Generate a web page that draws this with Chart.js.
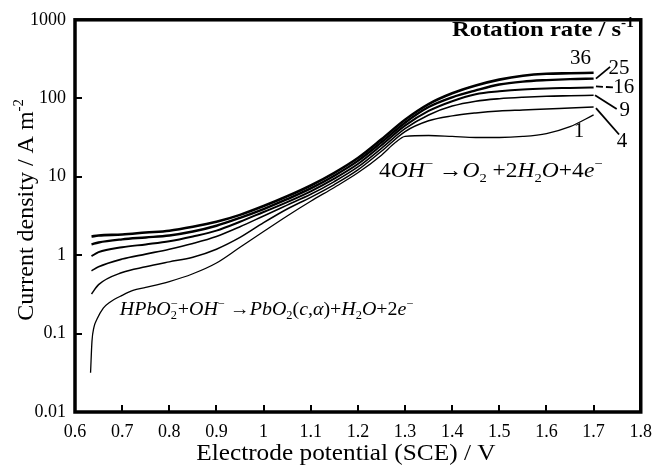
<!DOCTYPE html>
<html>
<head>
<meta charset="utf-8">
<script src="https://cdn.jsdelivr.net/npm/chart.js@4.4.0/dist/chart.umd.min.js"></script>
<style>
  html, body { margin: 0; padding: 0; background: #fff; }
  #wrap { width: 661px; height: 470px; }
</style>
</head>
<body>
<div id="wrap"><canvas id="chart" width="661" height="470"></canvas></div>
<script>
// Electrode potential (V vs SCE) sampled for the 4–36 s^-1 curves
const potential = [0.635, 0.65, 0.70, 0.75, 0.80, 0.85, 0.90, 0.95, 1.00, 1.05, 1.10, 1.15,
                   1.20, 1.25, 1.30, 1.35, 1.40, 1.45, 1.50, 1.55, 1.60, 1.65, 1.70];
// Current density (A m^-2) at each rotation rate
const current36 = [1.73, 1.78, 1.83, 1.94, 2.05, 2.30, 2.66, 3.26, 4.22, 5.62, 7.72, 11.2,
                   17.3, 29.9, 53.1, 84.1, 115.5, 145.4, 172.8, 193.9, 205.4, 208.4, 211.3];
const current25 = [1.37, 1.45, 1.59, 1.68, 1.78, 2.00, 2.37, 2.99, 3.87, 5.16, 7.08, 10.3,
                   15.9, 27.4, 48.7, 77.2, 102.9, 125.9, 149.6, 163.1, 170.3, 175.3, 177.8];
const current16 = [0.97, 1.09, 1.26, 1.37, 1.50, 1.73, 2.05, 2.66, 3.55, 4.73, 6.49, 9.44,
                   14.5, 25.1, 44.7, 68.8, 91.7, 112.2, 122.4, 129.6, 133.4, 135.3, 137.3];
const current9  = [0.63, 0.71, 0.89, 1.03, 1.19, 1.41, 1.73, 2.30, 3.16, 4.34, 5.96, 8.66,
                   13.3, 23.0, 41.0, 61.3, 79.4, 91.7, 98.6, 102.9, 105.9, 107.5, 109.0];
const current4  = [0.32, 0.42, 0.60, 0.71, 0.82, 0.94, 1.19, 1.68, 2.59, 3.87, 5.46, 7.94,
                   12.2, 21.1, 37.6, 51.6, 59.6, 64.9, 68.8, 70.8, 72.9, 75.0, 77.2];
// The 1 s^-1 curve is sampled more densely near its steep start
const potential1 = [0.633, 0.636, 0.640, 0.647, 0.660, 0.674, 0.70, 0.723, 0.75, 0.80, 0.85, 0.90,
                    0.95, 1.00, 1.05, 1.10, 1.15, 1.20, 1.25, 1.28, 1.30, 1.35, 1.40, 1.45,
                    1.50, 1.55, 1.60, 1.65, 1.70];
const current1 = [0.0316, 0.0794, 0.119, 0.154, 0.211, 0.251, 0.307, 0.355, 0.387, 0.460, 0.579, 0.794,
                  1.26, 2.00, 3.16, 4.87, 7.29, 11.2, 18.8, 27.4, 32.6, 33.5, 32.6, 31.6,
                  31.6, 32.6, 35.5, 43.4, 61.3];

const rotationRates = ['36', '25', '16', '9', '4', '1'];
const xTickStep = 0.1;
const yTickValues = [0.01, 0.1, 1, 10, 100, 1000];

// Curve labels and their leader lines, placed in data coordinates
const rateLabelAnchors = [
  { text: '36', at: [1.672, 273.8] },
  { text: '25', at: [1.754, 205.4] },
  { text: '16', at: [1.764, 115.5] },
  { text: '9',  at: [1.766, 59.6] },
  { text: '4',  at: [1.760, 23.7] },
  { text: '1',  at: [1.669, 31.6] }
];
const leaderLines = [
  { from: [1.705, 177.8], to: [1.735, 251.2] },
  { from: [1.705, 141.3], to: [1.743, 137.3], dash: [7, 3] },
  { from: [1.703, 109.0], to: [1.749, 72.9] },
  { from: [1.705, 75.0],  to: [1.754, 34.5] }
];

const SERIF = '"Liberation Serif", "Times New Roman", Times, serif';

function pairUp(xs, ys) { return xs.map((v, i) => ({ x: v, y: ys[i] })); }

const seriesValues = [current36, current25, current16, current9, current4];
const lineWidths = [2.6, 2.4, 2.0, 1.6, 1.5, 1.3];

const datasets = rotationRates.map((rate, i) => ({
  label: rate + ' s-1',
  data: i < 5 ? pairUp(potential, seriesValues[i]) : pairUp(potential1, current1),
  borderColor: '#000',
  borderWidth: lineWidths[i],
  pointRadius: 0,
  fill: false,
  cubicInterpolationMode: 'monotone'
}));

// ---- rich text helper (italics, subscripts, superscripts) ----
function fontFor(p, size, bold) {
  const s = (p.sub || p.sup || p.stack) ? size * 0.62 : size;
  return (p.i ? 'italic ' : '') + (bold ? 'bold ' : '') + s.toFixed(1) + 'px ' + SERIF;
}
function partWidth(ctx, p, size, bold) {
  ctx.font = fontFor(p, size, bold);
  if (p.stack) return Math.max(ctx.measureText(p.stack[0]).width, ctx.measureText(p.stack[1]).width);
  return ctx.measureText(p.t).width;
}
function drawRich(ctx, parts, x, y, size, opts) {
  const o = Object.assign({ align: 'left', bold: false, stretch: 1 }, opts || {});
  const widths = parts.map(p => partWidth(ctx, p, size, o.bold));
  const total = widths.reduce((a, b) => a + b, 0) * o.stretch;
  let start = x;
  if (o.align === 'right') start = x - total;
  else if (o.align === 'center') start = x - total / 2;
  ctx.save();
  ctx.translate(start, y);
  ctx.scale(o.stretch, 1);
  ctx.textAlign = 'left';
  ctx.textBaseline = 'alphabetic';
  let cx = 0;
  parts.forEach((p, i) => {
    ctx.font = fontFor(p, size, o.bold);
    if (p.stack) {
      ctx.fillText(p.stack[0], cx, size * 0.24);
      ctx.fillText(p.stack[1], cx, -size * 0.40);
    } else {
      const dy = p.sub ? size * 0.24 : (p.sup ? -size * 0.40 : 0);
      ctx.fillText(p.t, cx, dy);
    }
    cx += widths[i];
  });
  ctx.restore();
}

const oxygenEquation = [
  { t: '4' }, { t: 'OH', i: true }, { t: '\u2212', sup: true }, { t: ' \u2192' },
  { t: 'O', i: true }, { t: '2', sub: true }, { t: ' +2' }, { t: 'H', i: true }, { t: '2', sub: true },
  { t: 'O', i: true }, { t: '+4' }, { t: 'e', i: true }, { t: '\u2212', sup: true }
];
const depositEquation = [
  { t: 'HPbO', i: true }, { stack: ['2', '\u2212'] }, { t: '+' }, { t: 'OH', i: true },
  { t: '\u2212', sup: true }, { t: ' \u2192' }, { t: 'PbO', i: true }, { t: '2', sub: true },
  { t: '(' }, { t: 'c', i: true }, { t: ',' }, { t: '\u03b1', i: true }, { t: ')' }, { t: '+' },
  { t: 'H', i: true }, { t: '2', sub: true }, { t: 'O', i: true }, { t: '+2' }, { t: 'e', i: true },
  { t: '\u2212', sup: true }
];

const decorations = {
  id: 'decorations',
  afterDraw(chart) {
    const { ctx, chartArea: a, scales: { x, y } } = chart;
    ctx.save();
    ctx.strokeStyle = '#000';
    ctx.fillStyle = '#000';

    // inward tick marks on the bottom and left axes
    ctx.lineWidth = 2;
    ctx.beginPath();
    x.ticks.forEach(t => {
      const px = Math.round(x.getPixelForValue(t.value));
      ctx.moveTo(px, a.bottom); ctx.lineTo(px, a.bottom - 7);
    });
    y.ticks.forEach(t => {
      const py = Math.round(y.getPixelForValue(t.value));
      ctx.moveTo(a.left, py); ctx.lineTo(a.left + 7, py);
    });
    ctx.stroke();

    // heavy frame around the plot
    ctx.lineWidth = 3.5;
    ctx.strokeRect(a.left, a.top, a.right - a.left, a.bottom - a.top);

    // axis titles
    drawRich(ctx, [{ t: 'Electrode potential (SCE) / V' }],
      (a.left + a.right) / 2 - 12, a.bottom + 48, 23, { align: 'center', stretch: 1.1 });
    ctx.save();
    ctx.translate(a.left - 42, (a.top + a.bottom) / 2 - 6);
    ctx.rotate(-Math.PI / 2);
    drawRich(ctx, [{ t: 'Current density / A m' }, { t: '-2', sup: true }], 0, 0, 24, { align: 'center' });
    ctx.restore();

    // legend heading
    drawRich(ctx, [{ t: 'Rotation rate / s' }, { t: '-1', sup: true }],
      a.right - 7, a.top + 16, 22, { align: 'right', bold: true, stretch: 1.12 });

    // leader lines and curve labels
    ctx.lineWidth = 1.8;
    leaderLines.forEach(l => {
      ctx.setLineDash(l.dash || []);
      ctx.beginPath();
      ctx.moveTo(x.getPixelForValue(l.from[0]), y.getPixelForValue(l.from[1]));
      ctx.lineTo(x.getPixelForValue(l.to[0]), y.getPixelForValue(l.to[1]));
      ctx.stroke();
    });
    ctx.setLineDash([]);
    rateLabelAnchors.forEach(l => {
      drawRich(ctx, [{ t: l.text }], x.getPixelForValue(l.at[0]), y.getPixelForValue(l.at[1]), 20,
        { align: 'center', stretch: 1.05 });
    });

    // reaction equations
    drawRich(ctx, oxygenEquation, x.getPixelForValue(1.245), y.getPixelForValue(10), 21, { stretch: 1.12 });
    drawRich(ctx, depositEquation, x.getPixelForValue(0.695), y.getPixelForValue(0.173), 19, { stretch: 1.05 });
    ctx.restore();
  }
};

new Chart(document.getElementById('chart'), {
  type: 'line',
  data: { datasets },
  options: {
    responsive: false,
    animation: false,
    layout: { padding: { left: 0, top: 12, right: 18, bottom: 0 } },
    plugins: { legend: { display: false }, tooltip: { enabled: false } },
    scales: {
      x: {
        type: 'linear',
        min: 0.6,
        max: 1.8,
        grid: { display: false, drawTicks: false },
        border: { display: false },
        ticks: {
          stepSize: xTickStep,
          autoSkip: false,
          maxRotation: 0,
          padding: 9,
          color: '#000',
          font: { family: SERIF, size: 18 },
          callback: v => String(Number(Number(v).toFixed(1)))
        },
        afterFit: s => { s.height = 58; }
      },
      y: {
        type: 'logarithmic',
        min: 0.01,
        max: 1000,
        grid: { display: false, drawTicks: false },
        border: { display: false },
        afterBuildTicks: s => { s.ticks = yTickValues.map(v => ({ value: v })); },
        ticks: {
          padding: 9,
          color: '#000',
          font: { family: SERIF, size: 18 },
          callback: v => String(v)
        },
        afterFit: s => { s.width = 75; }
      }
    }
  },
  plugins: [decorations]
});
</script>
</body>
</html>
